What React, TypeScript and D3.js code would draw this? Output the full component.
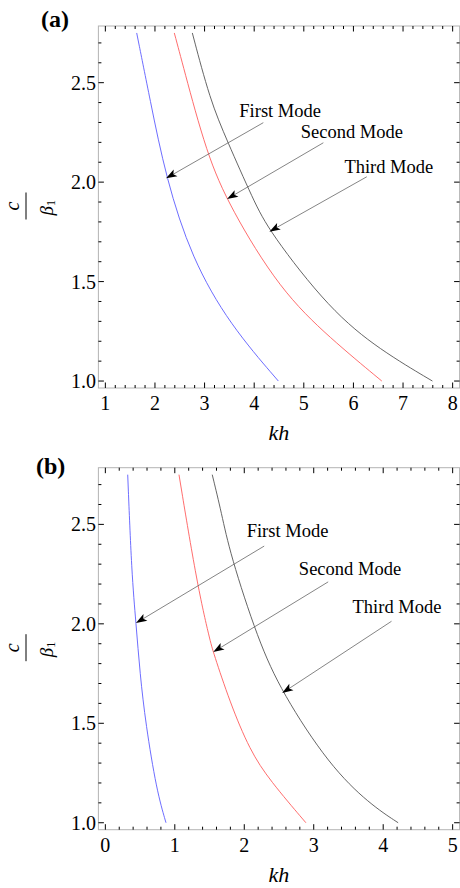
import React from "react";
import * as d3 from "d3";

// ---------- data ----------
type P = [number, number];

// Panel (a)
const aFirst: P[] = [[1.632, 2.75], [1.9, 2.416], [2.223, 2.019], [2.74, 1.617], [3.513, 1.282], [4.487, 1.0]];
const aSecond: P[] = [[2.39, 2.75], [2.572, 2.58], [3.043, 2.141], [3.513, 1.873], [4.521, 1.458], [5.53, 1.215], [6.572, 1.0]];
const aThird: P[] = [[2.753, 2.75], [3.11, 2.413], [3.447, 2.212], [3.983, 1.91], [4.306, 1.751], [5.53, 1.357], [6.537, 1.156], [7.592, 1.0]];

// Panel (b)
const bFirst: P[] = [[0.322, 2.75], [0.379, 2.253], [0.441, 2.004], [0.499, 1.749], [0.581, 1.497], [0.739, 1.161], [0.873, 1.0]];
const bSecond: P[] = [[1.06, 2.75], [1.323, 2.194], [1.506, 1.917], [1.553, 1.858], [1.793, 1.606], [2.081, 1.363], [2.369, 1.212], [2.887, 1.0]];
const bThird: P[] = [[1.539, 2.75], [1.674, 2.555], [1.794, 2.354], [2.2, 1.917], [2.546, 1.652], [3.229, 1.287], [3.805, 1.094], [4.215, 1.0]];

const modeNames = ["First Mode", "Second Mode", "Third Mode"];
const modeColors = ["#5c5cff", "#ff5c5c", "#555555"];

// annotation: [textX, textY, tailX, tailY, tipX, tipY] in data units
const aNotes: number[][] = [
  [3.70, 2.329, 4.184, 2.299, 2.223, 2.019],
  [4.939, 2.22, 5.394, 2.198, 3.453, 1.915],
  [5.818, 2.044, 6.269, 2.027, 4.306, 1.751],
];
const bNotes: number[][] = [
  [2.034, 2.438, 2.287, 2.391, 0.441, 2.004],
  [2.786, 2.248, 3.208, 2.211, 1.553, 1.858],
  [3.559, 2.055, 4.12, 2.013, 2.546, 1.652],
];

const yTickLabels = [1.0, 1.5, 2.0, 2.5];
const aXTicks = [1, 2, 3, 4, 5, 6, 7, 8];
const bXTicks = [0, 1, 2, 3, 4, 5];
const yDataRange: P = [1, 2.75];
const aXRange: P = [1, 8];
const bXRange: P = [0, 5];

const SERIF = "'Liberation Serif', 'Times New Roman', Times, serif";

function pad(r: P): P {
  const d = (r[1] - r[0]) * 0.02;
  return [r[0] - d, r[1] + d];
}

function range(a: number, b: number, step: number): number[] {
  const out: number[] = [];
  const n = Math.round((b - a) / step);
  for (let i = 0; i <= n; i++) out.push(+(a + i * step).toFixed(6));
  return out;
}

interface PanelProps {
  label: string;
  top: number;
  xRange: P;
  xTicks: number[];
  curves: P[][];
  notes: number[][];
}

function Panel({ label, top, xRange, xTicks, curves, notes }: PanelProps) {
  const left = 98.4;
  const right = 459.6;
  const bottom = top + 362;
  const x = d3.scaleLinear().domain(pad(xRange)).range([left, right]);
  const y = d3.scaleLinear().domain(pad(yDataRange)).range([bottom, top]);
  const line = d3
    .line<P>()
    .x((d) => x(d[0]))
    .y((d) => y(d[1]))
    .curve(d3.curveBasis);

  const xMinor = range(xRange[0], xRange[1], 0.2).filter((v) => Math.abs(v - Math.round(v)) > 1e-6);
  const yMajor = range(1, 2.5, 0.5);
  const yMinor = range(1, 2.7, 0.1).filter((v) => !yMajor.some((m) => Math.abs(m - v) < 1e-6));
  const MAJ = 5.5;
  const MIN = 3;

  const cy = (top + bottom) / 2 - 1;

  return (
    <g>
      <text x={label === "(a)" ? 41 : 36} y={top + (label === "(a)" ? 0.5 : 6)} fontFamily={SERIF} fontWeight="bold" fontSize={24}>
        {label}
      </text>
      {/* frame */}
      <rect x={left} y={top} width={right - left} height={bottom - top} fill="none" stroke="#b4b4b4" strokeWidth={1} />
      {/* ticks */}
      <g stroke="#000" strokeWidth={1}>
        {xTicks.map((v) => (
          <g key={"xm" + v}>
            <line x1={x(v)} x2={x(v)} y1={bottom} y2={bottom - MAJ} />
            <line x1={x(v)} x2={x(v)} y1={top} y2={top + MAJ} />
          </g>
        ))}
        {xMinor.map((v) => (
          <g key={"xn" + v}>
            <line x1={x(v)} x2={x(v)} y1={bottom} y2={bottom - MIN} />
            <line x1={x(v)} x2={x(v)} y1={top} y2={top + MIN} />
          </g>
        ))}
        {yMajor.map((v) => (
          <g key={"ym" + v}>
            <line x1={left} x2={left + MAJ} y1={y(v)} y2={y(v)} />
            <line x1={right} x2={right - MAJ} y1={y(v)} y2={y(v)} />
          </g>
        ))}
        {yMinor.map((v) => (
          <g key={"yn" + v}>
            <line x1={left} x2={left + MIN} y1={y(v)} y2={y(v)} />
            <line x1={right} x2={right - MIN} y1={y(v)} y2={y(v)} />
          </g>
        ))}
      </g>
      {/* tick labels */}
      <g fontFamily={SERIF} fontSize={20} fill="#000">
        {xTicks.map((v) => (
          <text key={"xl" + v} x={x(v)} y={bottom + 22} textAnchor="middle">
            {v}
          </text>
        ))}
        {yTickLabels.map((v) => (
          <text key={"yl" + v} x={96} y={y(v) + 7} textAnchor="end">
            {d3.format(".1f")(v)}
          </text>
        ))}
      </g>
      {/* axis labels */}
      <text x={(left + right) / 2} y={bottom + 52} textAnchor="middle" fontFamily={SERIF} fontStyle="italic" fontSize={22}>
        kh
      </text>
      <g transform={`translate(26,${cy}) rotate(-90)`} fontFamily={SERIF} fontStyle="italic">
        <line x1={-13.5} x2={13.5} y1={0} y2={0} stroke="#000" strokeWidth={1} />
        <text x={0} y={-7.5} textAnchor="middle" fontSize={20}>
          c
        </text>
        <text x={-9.5} y={27} fontSize={19}>
          β
          <tspan dy={2} fontSize={12} fontStyle="normal">
            1
          </tspan>
        </text>
      </g>
      {/* curves */}
      <g fill="none" strokeWidth={0.9}>
        {curves.map((c, i) => (
          <path key={"c" + i} d={line(c) || ""} stroke={modeColors[i]} />
        ))}
      </g>
      {/* annotations */}
      {notes.map((n, i) => {
        const [tx, ty, ax, ay, bx, by] = n;
        const x1 = x(ax), y1 = y(ay), x2 = x(bx), y2 = y(by);
        const ang = Math.atan2(y2 - y1, x2 - x1);
        const L = 11, W = 3.8, N = 2.5;
        const ca = Math.cos(ang), sa = Math.sin(ang);
        const bxp = x2 - L * ca, byp = y2 - L * sa;
        const p1 = [bxp - W * sa, byp + W * ca];
        const p2 = [bxp + W * sa, byp - W * ca];
        const pn = [x2 - (L - N) * ca, y2 - (L - N) * sa];
        return (
          <g key={"n" + i}>
            <line x1={x1} y1={y1} x2={pn[0]} y2={pn[1]} stroke="#666" strokeWidth={0.8} />
            <path d={`M${x2},${y2}L${p1[0]},${p1[1]}L${pn[0]},${pn[1]}L${p2[0]},${p2[1]}Z`} fill="#000" />
            <text x={x(tx)} y={y(ty)} fontFamily={SERIF} fontSize={18.5} fill="#000">
              {modeNames[i]}
            </text>
          </g>
        );
      })}
    </g>
  );
}

export default function App() {
  return (
    <svg
      width={460}
      height={888}
      viewBox="0 0 460 888"
      style={{ position: "absolute", left: 0, top: 0, background: "#fff" }}
    >
      <rect x={0} y={0} width={460} height={888} fill="#fff" />
      <Panel label="(a)" top={26} xRange={aXRange} xTicks={aXTicks} curves={[aFirst, aSecond, aThird]} notes={aNotes} />
      <Panel label="(b)" top={467.7} xRange={bXRange} xTicks={bXTicks} curves={[bFirst, bSecond, bThird]} notes={bNotes} />
    </svg>
  );
}
